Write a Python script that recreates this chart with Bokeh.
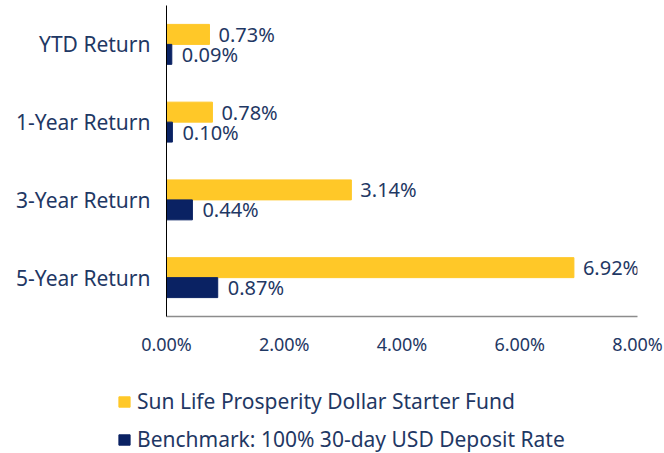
from bokeh.plotting import figure
from bokeh.models import (ColumnDataSource, FactorRange, Range1d, FixedTicker,
                          PrintfTickFormatter, Legend, LegendItem)
from bokeh.transform import dodge
from bokeh.core.properties import value
from bokeh.embed import file_html
from bokeh.resources import INLINE

categories = ["YTD Return", "1-Year Return", "3-Year Return", "5-Year Return"]
fund = [0.73, 0.78, 3.14, 6.92]
benchmark = [0.09, 0.10, 0.44, 0.87]
x_ticks = [0, 2, 4, 6, 8]
series_names = ["Sun Life Prosperity Dollar Starter Fund",
                "Benchmark: 100% 30-day USD Deposit Rate"]

YELLOW = "#FFC828"
NAVY = "#0A2263"
TEXT = "#1F3864"
FONT = "Noto Sans"

src = ColumnDataSource(dict(
    cat=categories,
    fund=fund,
    bench=benchmark,
    fund_lbl=[f"{v:.2f}%" for v in fund],
    bench_lbl=[f"{v:.2f}%" for v in benchmark],
))

p = figure(
    y_range=FactorRange(factors=list(reversed(categories)), range_padding=0),
    x_range=Range1d(0, 8),
    frame_width=471, frame_height=311,
    min_border_left=166, min_border_top=5, min_border_right=27,
    min_border_bottom=45,
    output_backend="svg", toolbar_location=None,
    background_fill_color="white", border_fill_color="white",
)
p.outline_line_color = None
p.xgrid.grid_line_color = None
p.ygrid.grid_line_color = None

bh = 0.257
p.hbar(y=dodge("cat", bh / 2, range=p.y_range), right="fund", left=0,
       height=bh, color=YELLOW, source=src)
p.hbar(y=dodge("cat", -bh / 2, range=p.y_range), right="bench", left=0,
       height=bh, color=NAVY, source=src)

p.text(x="fund", y=dodge("cat", bh / 2, range=p.y_range), text="fund_lbl",
       source=src, x_offset=9, text_baseline="middle", text_align="left",
       text_font=value(FONT), text_font_size="20px", text_color=TEXT)
p.text(x="bench", y=dodge("cat", -bh / 2, range=p.y_range), text="bench_lbl",
       source=src, x_offset=10, text_baseline="middle", text_align="left",
       text_font=value(FONT), text_font_size="20px", text_color=TEXT)

xa = p.xaxis[0]
xa.ticker = FixedTicker(ticks=x_ticks)
xa.formatter = PrintfTickFormatter(format="%.2f%%")
xa.axis_line_color = "#8C8C8C"
xa.axis_line_width = 1.5
xa.major_tick_line_color = None
xa.minor_tick_line_color = None
xa.major_label_standoff = 9
xa.major_label_text_font = FONT
xa.major_label_text_font_size = "18px"
xa.major_label_text_color = TEXT

ya = p.yaxis[0]
ya.axis_line_color = "black"
ya.axis_line_width = 1
ya.major_tick_line_color = None
ya.minor_tick_line_color = None
ya.major_label_standoff = 10
ya.major_label_text_font = FONT
ya.major_label_text_font_size = "21px"
ya.major_label_text_color = TEXT

# Legend panel below the chart (separate root, stacked under the chart)
lg = figure(width=664, height=92, x_range=Range1d(0, 1), y_range=Range1d(0, 1),
            x_axis_type=None, y_axis_type=None, min_border=0,
            output_backend="svg", toolbar_location=None,
            background_fill_color="white", border_fill_color="white")
lg.outline_line_color = None
lg.xgrid.grid_line_color = None
lg.ygrid.grid_line_color = None
# swatch renderers kept outside the visible range; only their legend glyphs show
e1 = lg.hbar(y=[-5], right=[1], left=0, height=0.1, color=YELLOW)
e2 = lg.hbar(y=[-5], right=[1], left=0, height=0.1, color=NAVY)

legend = Legend(
    items=[LegendItem(label=series_names[0], renderers=[e1]),
           LegendItem(label=series_names[1], renderers=[e2])],
    orientation="vertical", location=(117, 0),
    label_text_font=FONT, label_text_font_size="21px", label_text_color=TEXT,
    glyph_width=14, glyph_height=13, label_height=22, spacing=10,
    label_standoff=6, padding=0, margin=0,
    border_line_color=None, background_fill_alpha=0,
)
lg.add_layout(legend, "center")

open("out.html", "w").write(file_html([p, lg], INLINE))
